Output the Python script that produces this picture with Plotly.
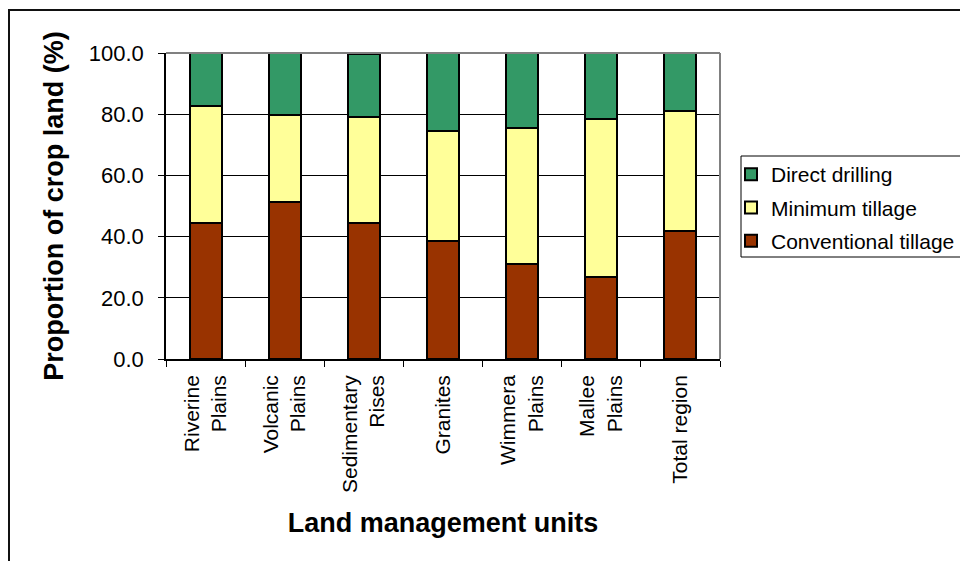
import plotly.graph_objects as go

# Land management units and tillage shares (% of crop land)
units = ["Riverine<br>Plains", "Volcanic<br>Plains", "Sedimentary<br>Rises", "Granites",
         "Wimmera<br>Plains", "Mallee<br>Plains", "Total region"]
conventional = [44.3, 51.2, 44.3, 38.7, 30.9, 26.9, 41.7]
minimum = [38.5, 28.4, 34.9, 35.8, 44.7, 51.4, 39.3]
direct = [17.2, 20.4, 20.5, 25.5, 24.4, 21.7, 19.0]

# stacked bottom to top; legend lists them top to bottom
series = [
    ("Conventional tillage", conventional, "#993300", 3),
    ("Minimum tillage", minimum, "#FFFF99", 2),
    ("Direct drilling", direct, "#339966", 1),
]

FONT = "Arial, Liberation Sans, sans-serif"

fig = go.Figure()
for name, vals, col, rank in series:
    fig.add_trace(go.Bar(
        x=units, y=vals, name=name, legendgroup=name, legendrank=rank,
        marker=dict(color=col, line=dict(color="black", width=2)),
    ))

# plot-area geometry in pixels
L, R, T, B = 166, 240, 53, 202
W, H = 960 - L - R, 561 - T - B

def px(x):
    return (x - L) / W

def py(y):
    return (561 - B - y) / H

fig.update_layout(
    width=960, height=561,
    margin=dict(l=L, r=R, t=T, b=B, pad=0, autoexpand=False),
    barmode="stack", bargap=0.595,
    paper_bgcolor="white", plot_bgcolor="white",
    font=dict(family=FONT, color="black", size=21),
    showlegend=True,
    legend=dict(
        x=px(731), y=py(154), xanchor="left", yanchor="top",
        traceorder="grouped", tracegroupgap=3,
        bgcolor="rgba(0,0,0,0)", borderwidth=0,
        font=dict(size=21, family=FONT),
        itemwidth=30,
    ),
    xaxis=dict(
        tickangle=-90, tickfont=dict(size=21),
        showline=True, linecolor="black", linewidth=1.5,
        ticks="outside", tickson="boundaries", ticklen=6, tickcolor="black",
        ticklabelstandoff=6,
        title=dict(text="<b>Land management units</b>", font=dict(size=27), standoff=21),
    ),
    yaxis=dict(
        range=[0, 100], dtick=20, tickformat=".1f",
        tickfont=dict(size=22),
        showline=True, linecolor="black", linewidth=1.5,
        ticks="outside", ticklen=6, tickcolor="black",
        ticklabelstandoff=10,
        showgrid=True, gridcolor="black", gridwidth=1,
        title=dict(text="<b>Proportion of crop land (%)</b>", font=dict(size=27), standoff=17),
        zeroline=False,
    ),
    shapes=[
        # grey top and right edges of the plot area
        dict(type="line", xref="paper", yref="paper", x0=0, x1=1, y0=1, y1=1,
             line=dict(color="#808080", width=2)),
        dict(type="line", xref="paper", yref="paper", x0=1, x1=1, y0=0, y1=1,
             line=dict(color="#808080", width=2)),
        # legend frame
        dict(type="rect", xref="paper", yref="paper",
             x0=px(741), x1=px(966), y0=py(257), y1=py(156),
             line=dict(color="black", width=1), fillcolor="rgba(0,0,0,0)"),
        # outer chart frame
        dict(type="rect", xref="paper", yref="paper",
             x0=px(9), x1=px(990), y0=py(590), y1=py(10),
             line=dict(color="#111111", width=2), fillcolor="rgba(0,0,0,0)"),
    ],
)

fig.write_html("out.html")
